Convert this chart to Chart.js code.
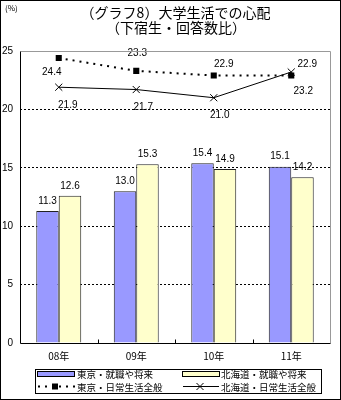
<!DOCTYPE html>
<html>
<head>
<meta charset="utf-8">
<script src="https://cdn.jsdelivr.net/npm/chart.js@4.4.1/dist/chart.umd.min.js"></script>
<style>
    html, body { margin: 0; padding: 0; background: #fff; }
    #wrap { position: absolute; left: 0; top: 0; width: 341px; height: 400px; box-sizing: border-box; border: 1px solid #000; }
    canvas { display: block; }
</style>
</head>
<body>
<div id="wrap"><canvas id="chart" width="339" height="398"></canvas></div>
<script>
// Chart data
const years = ['08年', '09年', '10年', '11年'];
const tokyoCareer = [11.3, 13.0, 15.4, 15.1];
const hokkaidoCareer = [12.6, 15.3, 14.9, 14.2];
const tokyoDaily = [24.4, 23.3, 22.9, 22.9];
const hokkaidoDaily = [21.9, 21.7, 21.0, 23.2];
const yTicks = [0, 5, 10, 15, 20, 25];

const titleLines = ['（グラフ8）大学生活での心配', '（下宿生・回答数比）'];
const legendNames = ['東京・就職や将来', '北海道・就職や将来', '東京・日常生活全般', '北海道・日常生活全般'];

// where the line value labels sit relative to their points
const tokyoDailyLabelOffsets = [[-7, 14], [1, -18], [10, -11], [16, -11]];
const hokkaidoDailyLabelOffsets = [[9, 18], [7, 18], [6, 18], [12, 19]];

const NUM_FONT = '10px "Liberation Sans", Arial, sans-serif';
const JP_FONT = '"Noto Sans CJK JP", sans-serif';

// Value labels above bars and beside line points
const valueLabels = {
    id: 'valueLabels',
    afterDatasetsDraw(chart) {
        const ctx = chart.ctx;
        ctx.save();
        ctx.font = NUM_FONT;
        ctx.fillStyle = '#000';
        ctx.textAlign = 'center';
        ctx.textBaseline = 'middle';
        chart.data.datasets.forEach((ds, i) => {
            const meta = chart.getDatasetMeta(i);
            meta.data.forEach((el, j) => {
                const text = ds.data[j].toFixed(1);
                if (ds.type === 'bar') {
                    ctx.fillText(text, el.x, el.y - 10);
                } else {
                    const off = ds.labelOffsets[j];
                    ctx.fillText(text, el.x + off[0], el.y + off[1]);
                }
            });
        });
        ctx.restore();
    }
};

// Plot frame, category ticks, title and legend
const decorations = {
    id: 'decorations',
    afterDraw(chart) {
        const ctx = chart.ctx;
        const a = chart.chartArea;
        const x = chart.scales.x;
        const l = Math.round(a.left) + 0.5, r = Math.round(a.right) + 0.5;
        const t = Math.round(a.top) + 0.5, b = Math.round(a.bottom) + 0.5;
        ctx.save();
        ctx.lineWidth = 1;

        // gray top/right edges, black axes
        ctx.strokeStyle = '#999';
        ctx.beginPath();
        ctx.moveTo(l, t); ctx.lineTo(r, t); ctx.lineTo(r, b);
        ctx.stroke();
        ctx.strokeStyle = '#000';
        ctx.beginPath();
        ctx.moveTo(l, t); ctx.lineTo(l, b); ctx.lineTo(r, b);
        ctx.stroke();

        // small ticks between categories
        ctx.beginPath();
        for (let i = 1; i < years.length; i++) {
            const px = Math.round((x.getPixelForValue(i - 1) + x.getPixelForValue(i)) / 2) + 0.5;
            ctx.moveTo(px, b); ctx.lineTo(px, b - 4);
        }
        ctx.stroke();

        // title
        ctx.fillStyle = '#000';
        ctx.textAlign = 'center';
        ctx.textBaseline = 'middle';
        ctx.font = '14px ' + JP_FONT;
        ctx.fillText(titleLines[0], 174.5, 11.5);
        ctx.fillText(titleLines[1], 175, 26.5);
        ctx.font = '8px ' + JP_FONT;
        ctx.textAlign = 'left';
        ctx.fillText('(%)', 4, 7);

        // legend box
        ctx.strokeStyle = '#000';
        ctx.strokeRect(34.5, 368.5, 286, 24);
        ctx.font = '9.5px ' + JP_FONT;
        ctx.textAlign = 'left';

        // row 1: bar swatches
        ctx.fillStyle = '#9999FF';
        ctx.fillRect(36.5, 370.5, 37, 5);
        ctx.strokeRect(36.5, 370.5, 37, 5);
        ctx.fillStyle = '#FFFFCC';
        ctx.fillRect(181.5, 370.5, 37, 5);
        ctx.strokeRect(181.5, 370.5, 37, 5);
        ctx.fillStyle = '#000';
        ctx.fillText(legendNames[0], 76, 373);
        ctx.fillText(legendNames[1], 220, 373);

        // row 2: line samples
        ctx.lineWidth = 2;
        ctx.setLineDash([2, 5]);
        ctx.beginPath();
        ctx.moveTo(37, 385.5); ctx.lineTo(75, 385.5);
        ctx.stroke();
        ctx.setLineDash([]);
        ctx.fillRect(51, 382.5, 6, 6);
        ctx.lineWidth = 1;
        ctx.beginPath();
        ctx.moveTo(182, 385.5); ctx.lineTo(218, 385.5);
        ctx.moveTo(195.5, 382); ctx.lineTo(202.5, 389);
        ctx.moveTo(202.5, 382); ctx.lineTo(195.5, 389);
        ctx.stroke();
        ctx.fillText(legendNames[2], 76, 386);
        ctx.fillText(legendNames[3], 220, 386);

        ctx.restore();
    }
};

document.addEventListener('DOMContentLoaded', function() {
    const ctx = document.getElementById('chart').getContext('2d');
    new Chart(ctx, {
        data: {
            labels: years,
            datasets: [
                {
                    type: 'line',
                    label: legendNames[2],
                    data: tokyoDaily,
                    labelOffsets: tokyoDailyLabelOffsets,
                    borderColor: '#000',
                    borderWidth: 2,
                    borderDash: [2, 5],
                    pointStyle: 'rect',
                    pointRadius: 4.3,
                    pointBackgroundColor: '#000',
                    pointBorderColor: '#000',
                    pointBorderWidth: 0,
                    tension: 0
                },
                {
                    type: 'line',
                    label: legendNames[3],
                    data: hokkaidoDaily,
                    labelOffsets: hokkaidoDailyLabelOffsets,
                    borderColor: '#000',
                    borderWidth: 1,
                    pointStyle: 'crossRot',
                    pointRadius: 5,
                    pointBorderColor: '#000',
                    pointBorderWidth: 1,
                    tension: 0
                },
                {
                    type: 'bar',
                    label: legendNames[0],
                    data: tokyoCareer,
                    backgroundColor: '#9999FF',
                    borderColor: '#222',
                    borderWidth: 1,
                    categoryPercentage: 0.58,
                    barPercentage: 1.0
                },
                {
                    type: 'bar',
                    label: legendNames[1],
                    data: hokkaidoCareer,
                    backgroundColor: '#FFFFCC',
                    borderColor: '#222',
                    borderWidth: 1,
                    categoryPercentage: 0.58,
                    barPercentage: 1.0
                }
            ]
        },
        options: {
            responsive: false,
            animation: false,
            layout: {
                padding: { top: 50, right: 10, bottom: 36, left: 0 }
            },
            scales: {
                x: {
                    type: 'category',
                    offset: true,
                    grid: { display: false, drawTicks: false },
                    border: { display: false },
                    ticks: {
                        color: '#000',
                        padding: 7,
                        font: { family: JP_FONT, size: 10 }
                    },
                    afterFit: s => { s.height = 20; }
                },
                y: {
                    min: 0,
                    max: 25,
                    afterBuildTicks: s => { s.ticks = yTicks.map(v => ({ value: v })); },
                    grid: {
                        drawTicks: false,
                        color: c => (c.tick.value === 0 || c.tick.value === 25) ? 'rgba(0,0,0,0)' : '#000',
                        lineWidth: 1
                    },
                    border: { display: false, dash: [2, 2] },
                    ticks: {
                        color: '#000',
                        padding: 7,
                        font: { family: '"Liberation Sans", Arial, sans-serif', size: 10 }
                    },
                    afterFit: s => { s.width = 19; }
                }
            },
            plugins: {
                legend: { display: false },
                title: { display: false },
                tooltip: { enabled: false }
            }
        },
        plugins: [valueLabels, decorations]
    });
});
</script>
</body>
</html>
